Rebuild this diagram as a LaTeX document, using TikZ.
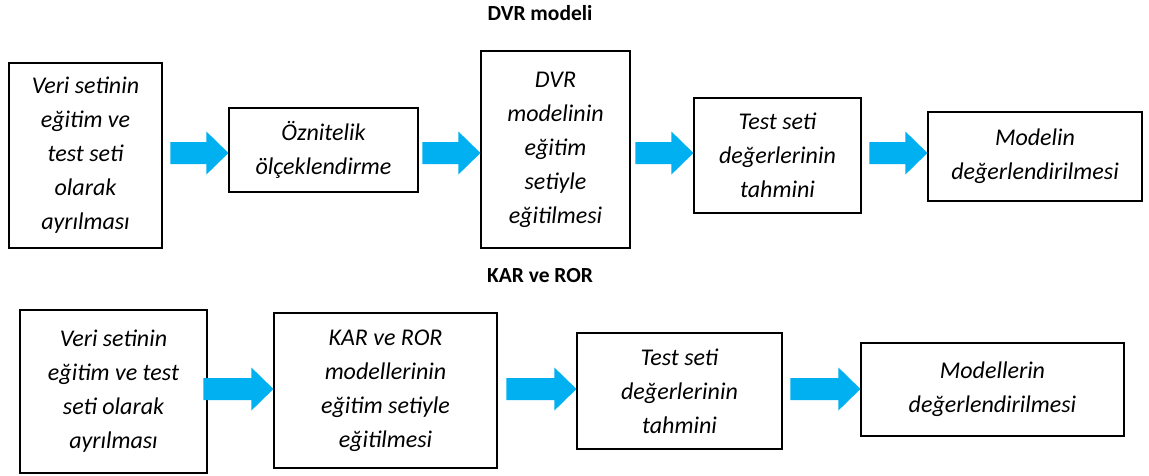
\documentclass[tikz,border=0pt]{standalone}
\usepackage{fontspec}
\setmainfont{Carlito}
\usepackage{tikz}
\usetikzlibrary{shapes,arrows,positioning,calc}

\definecolor{flowblue}{RGB}{0,176,240}

% block arrow ending on the left side of a box: target, row, length
\newcommand{\flowarrow}[3]{%
    \coordinate (tip) at (#1.west |- #2);
    \fill [flowblue] ($(tip)+(-#3,-11)$) -- ($(tip)+(-22,-11)$) -- ($(tip)+(-22,-21.5)$) -- (tip)
        -- ($(tip)+(-22,21.5)$) -- ($(tip)+(-22,11)$) -- ($(tip)+(-#3,11)$) -- cycle;
}

\begin{document}
\begin{tikzpicture}[x=1pt, y=-1pt,
    stage/.style={rectangle, draw, line width=1.2pt, align=center, inner sep=0pt,
        font=\itshape\fontsize{24}{34}\selectfont},
    heading/.style={font=\bfseries\fontsize{21.5}{25}\selectfont}]
    \useasboundingbox (0,0) rectangle (1149,475);

    % DVR modeli
    \node [heading] (dvrtitle) at (540,13) {DVR modeli};
    \coordinate (toprow) at (0,153);
    \node [stage, minimum width=153pt, minimum height=185pt] (split) at (85.5,155.5) {Veri setinin\\eğitim ve\\test seti\\olarak\\ayrılması};
    \node [stage, minimum width=189pt, minimum height=84pt] (scale) at (323.5,150) {Öznitelik\\ölçeklendirme};
    \node [stage, minimum width=149pt, minimum height=197pt] (dvrtrain) at (555.5,149.5) {DVR\\modelinin\\eğitim\\setiyle\\eğitilmesi};
    \node [stage, minimum width=167pt, minimum height=115pt] (dvrpred) at (777.5,155.5) {Test seti\\değerlerinin\\tahmini};
    \node [stage, minimum width=214pt, minimum height=89pt] (dvreval) at (1035,156.5) {Modelin\\değerlendirilmesi};

    \flowarrow{scale}{toprow}{58}
    \flowarrow{dvrtrain}{toprow}{58}
    \flowarrow{dvrpred}{toprow}{58}
    \flowarrow{dvreval}{toprow}{58}

    % KAR ve ROR
    \node [heading] (kartitle) at (540,276) {KAR ve ROR};
    \coordinate (botrow) at (0,389);
    \node [stage, minimum width=187pt, minimum height=163pt] (split2) at (113.5,391.5) {Veri setinin\\eğitim ve test\\seti olarak\\ayrılması};
    \node [stage, minimum width=223pt, minimum height=155pt] (kartrain) at (385.5,390.5) {KAR ve ROR\\modellerinin\\eğitim setiyle\\eğitilmesi};
    \node [stage, minimum width=205pt, minimum height=116pt] (karpred) at (679.5,391) {Test seti\\değerlerinin\\tahmini};
    \node [stage, minimum width=263pt, minimum height=93pt] (kareval) at (992.5,389.5) {Modellerin\\değerlendirilmesi};

    \flowarrow{kartrain}{botrow}{70}
    \flowarrow{karpred}{botrow}{70}
    \flowarrow{kareval}{botrow}{70}
\end{tikzpicture}
\end{document}
